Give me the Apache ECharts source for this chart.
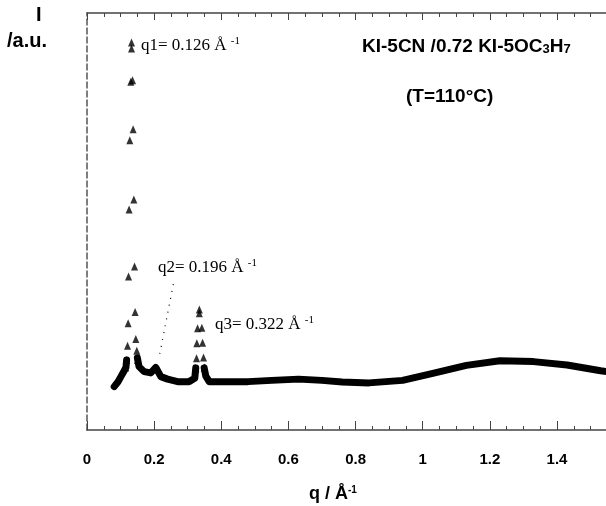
<!DOCTYPE html>
<html>
<head>
<meta charset="utf-8">
<script src="https://cdn.jsdelivr.net/npm/echarts@6/dist/echarts.min.js"></script>
<style>
html,body{margin:0;padding:0;background:#fff;}
#c{width:606px;height:506px;}
</style>
</head>
<body>
<div id="c"></div>
<script>
// x-axis ticks
const xTicks = [0, 0.2, 0.4, 0.6, 0.8, 1, 1.2, 1.4];
// continuous (dense) part of the scattering curve, in three pieces
const baseLeft = [[0.081,10.4],[0.092,11.5],[0.101,12.8],[0.110,14.1],[0.116,15.0],[0.118,16.8]];
const baseMid = [[0.150,17.3],[0.155,15.2],[0.170,14.0],[0.190,13.7],[0.205,15.0],[0.220,12.8],[0.240,12.2],[0.270,11.6],[0.304,11.6],[0.321,12.4],[0.324,14.9]];
const baseRight = [[0.349,14.9],[0.354,12.9],[0.364,11.6],[0.40,11.6],[0.48,11.6],[0.55,11.9],[0.63,12.2],[0.70,11.9],[0.76,11.5],[0.84,11.3],[0.94,11.9],[1.03,13.6],[1.13,15.5],[1.23,16.6],[1.33,16.4],[1.43,15.6],[1.53,14.2],[1.56,13.9]];
// isolated triangle points on the q1 peak
const peak1 = [[0.1326,92.9],[0.1356,83.9],[0.1374,72.1],[0.1395,55.3],[0.1415,39.2],[0.1433,28.3],[0.1454,21.8],[0.1484,19.0],[0.1505,16.8],
               [0.1326,91.5],[0.1305,83.5],[0.1275,69.5],[0.1254,52.9],[0.1237,36.8],[0.1225,25.6],[0.1207,20.2],[0.1177,16.8],[0.1156,15.0]];
// isolated triangle points on the q3 peak
const peak3 = [[0.3346,28.9],[0.3346,28.0],[0.3293,24.4],[0.3421,24.5],[0.3272,20.8],[0.3442,20.9],[0.3263,17.2],[0.3471,17.4],[0.3242,14.8],[0.3489,15.0]];
// dotted leader from q2 label to q2 bump
const q2Leader = [[0.2572,35.0],[0.2154,17.7]];

const chart = echarts.init(document.getElementById('c'), null, {renderer:'canvas'});
const axisLineStyle = {color:'#444', width:1.5};
const lineSeries = (d) => ({type:'line', data:d, showSymbol:false, symbol:'none', clip:true, lineStyle:{color:'#000', width:7, cap:'round', join:'round'}, z:2});
const annot = (txt, x, y) => ({type:'text', left:x, top:y, style:{
  text: txt, rich:{ n:{fontFamily:'Liberation Serif', fontSize:17, color:'#000'}, s:{fontFamily:'Liberation Serif', fontSize:11, color:'#000', padding:[0,0,9,0]} }, fill:'#000'}});
chart.setOption({
  animation:false,
  backgroundColor:'#fff',
  grid:{left:87, top:13, right:0, bottom:76},
  xAxis:[{
    type:'value', min:0, max:1.546, interval:0.2, position:'bottom',
    axisLine:{show:true, lineStyle:axisLineStyle},
    axisTick:{show:true, inside:true, length:9, lineStyle:{color:'#444', width:1}},
    minorTick:{show:true, splitNumber:4, length:4, lineStyle:{color:'#444', width:1}},
    splitLine:{show:false},
    axisLabel:{show:true, margin:22, fontFamily:'Liberation Sans', fontWeight:'bold', fontSize:15, color:'#000',
      showMaxLabel:false, formatter:(v)=> xTicks.indexOf(Math.round(v*10)/10) >= 0 && Math.abs(v - Math.round(v*10)/10) < 1e-6 ? String(Math.round(v*10)/10) : ''}
  },{
    type:'value', min:0, max:1.546, interval:0.2, position:'top',
    axisLine:{show:true, lineStyle:axisLineStyle},
    axisTick:{show:true, inside:true, length:7, lineStyle:{color:'#444', width:1}},
    minorTick:{show:true, splitNumber:4, length:4, lineStyle:{color:'#444', width:1}},
    splitLine:{show:false}, axisLabel:{show:false}
  }],
  yAxis:{type:'value', min:0, max:100,
    axisLine:{show:true, lineStyle:{color:'#555', width:1.5, type:[6,3]}},
    axisTick:{show:false}, axisLabel:{show:false}, splitLine:{show:false}},
  series:[
    lineSeries(baseLeft), lineSeries(baseMid), lineSeries(baseRight),
    {type:'scatter', data:peak1, symbol:'triangle', symbolSize:[7,8], itemStyle:{color:'#000'}, z:3},
    {type:'scatter', data:peak3, symbol:'triangle', symbolSize:[7,8], itemStyle:{color:'#000'}, z:3},
    {type:'line', data:q2Leader, showSymbol:false, symbol:'none', lineStyle:{color:'#000', width:1.2, type:[1,6]}, z:2}
  ],
  graphic:[
    {type:'text', left:36, top:5, style:{text:'I', font:'bold 20px "Liberation Sans"', fill:'#000'}},
    {type:'text', left:7, top:31, style:{text:'/a.u.', font:'bold 20px "Liberation Sans"', fill:'#000'}},
    annot('{n|q1= 0.126 Å }{s|-1}', 141, 36),
    annot('{n|q2= 0.196 Å }{s|-1}', 158, 258),
    annot('{n|q3= 0.322 Å }{s|-1}', 215, 315),
    {type:'text', left:362, top:37, style:{text:'{a|KI-5CN /0.72 KI-5OC}{b|3}{a|H}{b|7}',
      rich:{a:{fontFamily:'Liberation Sans', fontWeight:'bold', fontSize:19, color:'#000'},
            b:{fontFamily:'Liberation Sans', fontWeight:'bold', fontSize:13, color:'#000', padding:[6,0,0,0]}}}},
    {type:'text', left:406, top:87, style:{text:'(T=110°C)', font:'bold 19px "Liberation Sans"', fill:'#000'}},
    {type:'text', left:309, top:485, style:{text:'{a|q / Å}{b|-1}',
      rich:{a:{fontFamily:'Liberation Sans', fontWeight:'bold', fontSize:18, color:'#000'},
            b:{fontFamily:'Liberation Sans', fontWeight:'bold', fontSize:10, color:'#000', padding:[0,0,9,0]}}}}
  ]
});
</script>
</body>
</html>
